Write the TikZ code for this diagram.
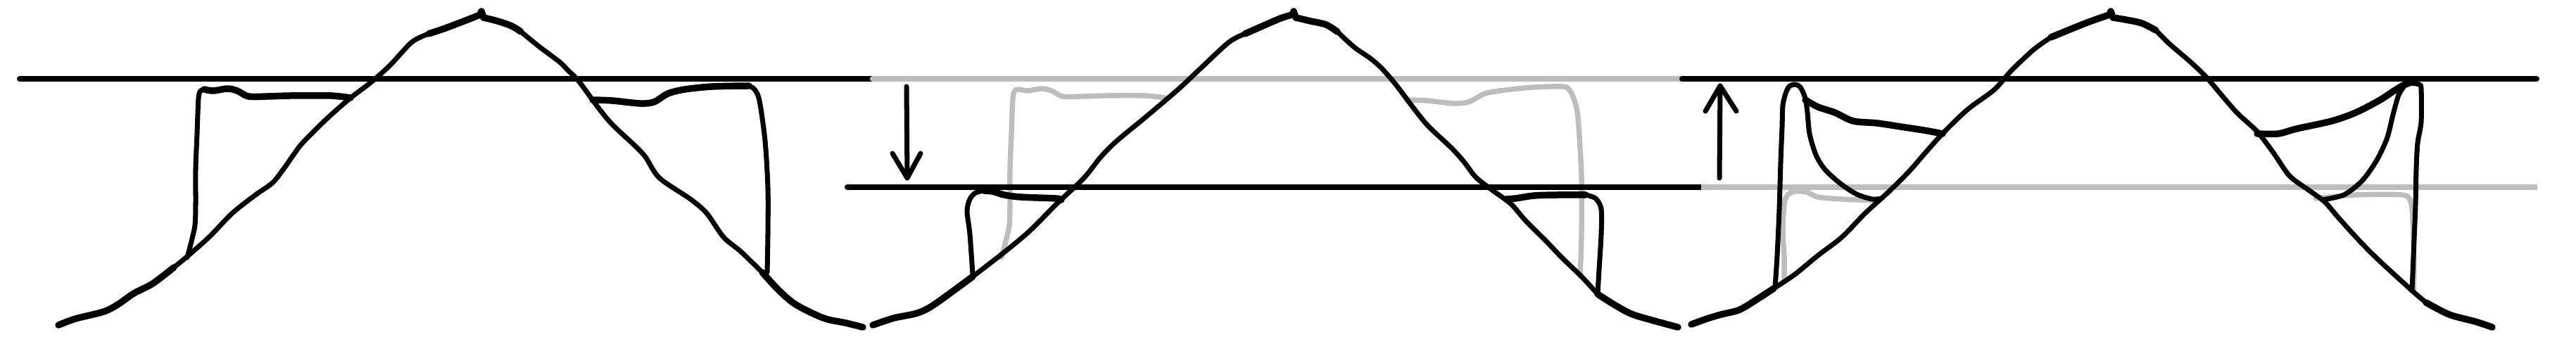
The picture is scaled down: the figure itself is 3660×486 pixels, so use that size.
\documentclass[tikz,border=0pt]{standalone}
\definecolor{lightink}{RGB}{189,189,189}
\tikzset{
  ink/.style={line width=2.0pt, line cap=round, line join=round, black},
  heavy/.style={line width=2.7pt, line cap=round, line join=round, black},
  pale/.style={line width=2.1pt, line cap=round, line join=round, lightink},
  level/.style={line width=2.3pt, line cap=round},
}
\begin{document}
\begin{tikzpicture}[x=0.01cm,y=-0.01cm]
\useasboundingbox (0,0) rectangle (3660,486);

% ---------- pale (previous states) ----------
\draw[pale] plot[smooth] coordinates {(1423,366) (1429,343) (1434,320) (1435,290) (1435,240) (1437,190) (1439,140) (1442,129) (1447,127) (1460,129) (1480,126) (1494,129) (1510,137) (1537,137) (1570,136) (1627,136) (1655,139)};
\draw[pale] plot[smooth] coordinates {(1999,142) (2027,143) (2066,147) (2086,145) (2100,138) (2113,132) (2147,127) (2180,124) (2220,123) (2230,128) (2237,143) (2242,167) (2247,250) (2247,333) (2245,392)};
\draw[pale] plot[smooth] coordinates {(2535,397) (2535,363) (2533,330) (2535,290) (2540,277) (2550,272) (2567,273) (2583,280) (2617,283) (2667,285)};
\draw[pale] plot[smooth] coordinates {(3290,282) (3347,277) (3413,277) (3425,287) (3428,313) (3430,380) (3429,413)};

% ---------- levels ----------
\draw[level] (28,112) -- (1240,112);
\draw[level,lightink] (1240,112) -- (2390,112);
\draw[level] (2390,112) -- (3604,112);
\draw[level] (1204,266) -- (2417,266);
\draw[level,lightink,line cap=butt] (2417,266) -- (3605,266);

% ---------- panel 1 ----------
\draw[heavy] plot[smooth] coordinates {(83,462) (107,453) (147,443) (167,433) (190,417) (217,403) (247,380)};
\draw[ink] plot[smooth] coordinates {(247,380) (263,367) (297,337) (330,303) (363,277) (387,260) (403,240) (417,220) (430,203) (463,170) (497,140) (527,117) (554,93) (585,60) (609,48)};
\draw[heavy] plot[smooth] coordinates {(609,48) (633,40) (667,27) (682,21)};
\draw[heavy] (682,21) -- (684,16) -- (687,25);
\draw[heavy] plot[smooth] coordinates {(687,25) (707,30) (727,37) (740,45)};
\draw[ink] plot[smooth] coordinates {(740,45) (767,67) (795,88) (807,100) (822,115) (850,153) (870,177) (902,207) (917,223) (937,253) (981,283) (1004,303) (1028,337) (1052,357) (1083,387)};
\draw[heavy] plot[smooth] coordinates {(1083,387) (1107,413) (1131,433) (1170,452) (1202,459) (1226,465)};
\draw[ink] plot[smooth] coordinates {(266,366) (272,343) (277,320) (278,290) (278,240) (280,190) (282,140) (285,129) (290,127)};
\draw[heavy] plot[smooth] coordinates {(290,127) (303,129) (323,126) (337,129) (353,137) (380,137) (413,136) (470,136) (498,139)};
\draw[heavy] plot[smooth] coordinates {(842,142) (870,143) (909,147) (929,145) (949,133) (973,127) (1012,123) (1064,122)};
\draw[ink] plot[smooth] coordinates {(1064,122) (1072,127) (1079,143) (1087,200) (1091,267) (1091,333) (1090,387)};

% ---------- panel 2 ----------
\coordinate (d0) at (1288,123);
\coordinate (d1) at (1289,253);
\coordinate (dl) at (1268,218);
\coordinate (dr) at (1308,218);
\draw[ink] (d0) -- (d1);
\draw[ink] (dl) -- (d1) -- (dr);
\draw[heavy] plot[smooth] coordinates {(1240,462) (1270,452) (1303,445) (1327,433) (1382,393)};
\draw[ink] plot[smooth] coordinates {(1382,393) (1421,363) (1461,330) (1501,290) (1540,253) (1564,223) (1587,200) (1627,167) (1674,127) (1706,97) (1746,60) (1769,48)};
\draw[heavy] plot[smooth] coordinates {(1769,48) (1817,27) (1836,21)};
\draw[heavy] (1836,21) -- (1838,16) -- (1841,25);
\draw[heavy] plot[smooth] coordinates {(1841,25) (1862,30) (1884,35) (1900,45)};
\draw[ink] plot[smooth] coordinates {(1900,45) (1924,67) (1947,83) (1963,97) (1983,120) (2011,157) (2030,180) (2062,210) (2080,230) (2097,252) (2120,270) (2147,290) (2167,313) (2197,343) (2220,367) (2247,393) (2270,418)};
\draw[heavy] plot[smooth] coordinates {(2270,418) (2297,435) (2323,448) (2384,465)};
\draw[ink] plot[smooth] coordinates {(1382,390) (1378,333) (1374,300) (1378,283) (1386,274) (1398,271)};
\draw[heavy] plot[smooth] coordinates {(1398,271) (1410,272) (1427,277) (1450,280) (1500,282) (1508,284)};
\draw[heavy] plot[smooth] coordinates {(2140,283) (2153,282) (2180,278) (2213,277) (2253,277)};
\draw[ink] plot[smooth] coordinates {(2253,277) (2267,282) (2275,297) (2275,333) (2272,383) (2270,417)};

% ---------- panel 3 ----------
\coordinate (u0) at (2443,253);
\coordinate (u1) at (2444,122);
\coordinate (ul) at (2423,158);
\coordinate (ur) at (2467,158);
\draw[ink] (u0) -- (u1);
\draw[ink] (ul) -- (u1) -- (ur);
\draw[heavy] plot[smooth] coordinates {(2403,461) (2425,453) (2445,447) (2472,440) (2500,423) (2520,410)};
\draw[ink] plot[smooth] coordinates {(2520,410) (2550,390) (2583,363) (2617,337) (2650,303) (2683,273) (2713,243) (2733,220) (2757,193) (2783,167) (2800,152) (2834,127) (2858,100) (2890,70) (2914,53)};
\draw[heavy] plot[smooth] coordinates {(2914,53) (2963,33) (2997,21)};
\draw[heavy] (2997,21) -- (2999,16) -- (3002,25);
\draw[heavy] plot[smooth] coordinates {(3002,25) (3020,28) (3043,33) (3063,43)};
\draw[ink] plot[smooth] coordinates {(3063,43) (3083,63) (3111,87) (3135,110) (3163,143) (3180,162) (3207,187) (3230,217) (3253,250) (3280,270) (3303,287) (3323,310) (3353,343) (3380,370) (3427,413) (3447,430)};
\draw[heavy] plot[smooth] coordinates {(3447,430) (3480,447) (3517,457) (3541,465)};
% left peaked plateau
\draw[ink] plot[smooth] coordinates {(2522,408) (2525,363) (2528,297) (2530,230) (2532,180) (2533,150) (2537,133) (2542,123) (2550,120) (2558,124) (2565,140) (2568,160) (2571,190) (2580,220) (2593,241) (2615,261) (2638,276) (2660,283) (2673,282)};
\draw[heavy] plot[smooth] coordinates {(2565,142) (2583,152) (2607,160) (2633,172) (2667,175) (2700,180) (2733,185) (2760,190)};
% right peaked plateau
\draw[heavy] plot[smooth] coordinates {(3207,190) (3237,190) (3263,183) (3313,172) (3347,160) (3380,143) (3400,130) (3413,122) (3423,118)};
\draw[ink] plot[smooth] coordinates {(3423,118) (3437,120) (3440,127) (3440,173) (3435,203) (3433,240) (3432,290) (3430,340) (3427,413)};
\draw[ink] plot[smooth] coordinates {(3417,121) (3408,135) (3400,163) (3392,195) (3380,222) (3367,243) (3353,260) (3330,277) (3300,284)};
\end{tikzpicture}
\end{document}
